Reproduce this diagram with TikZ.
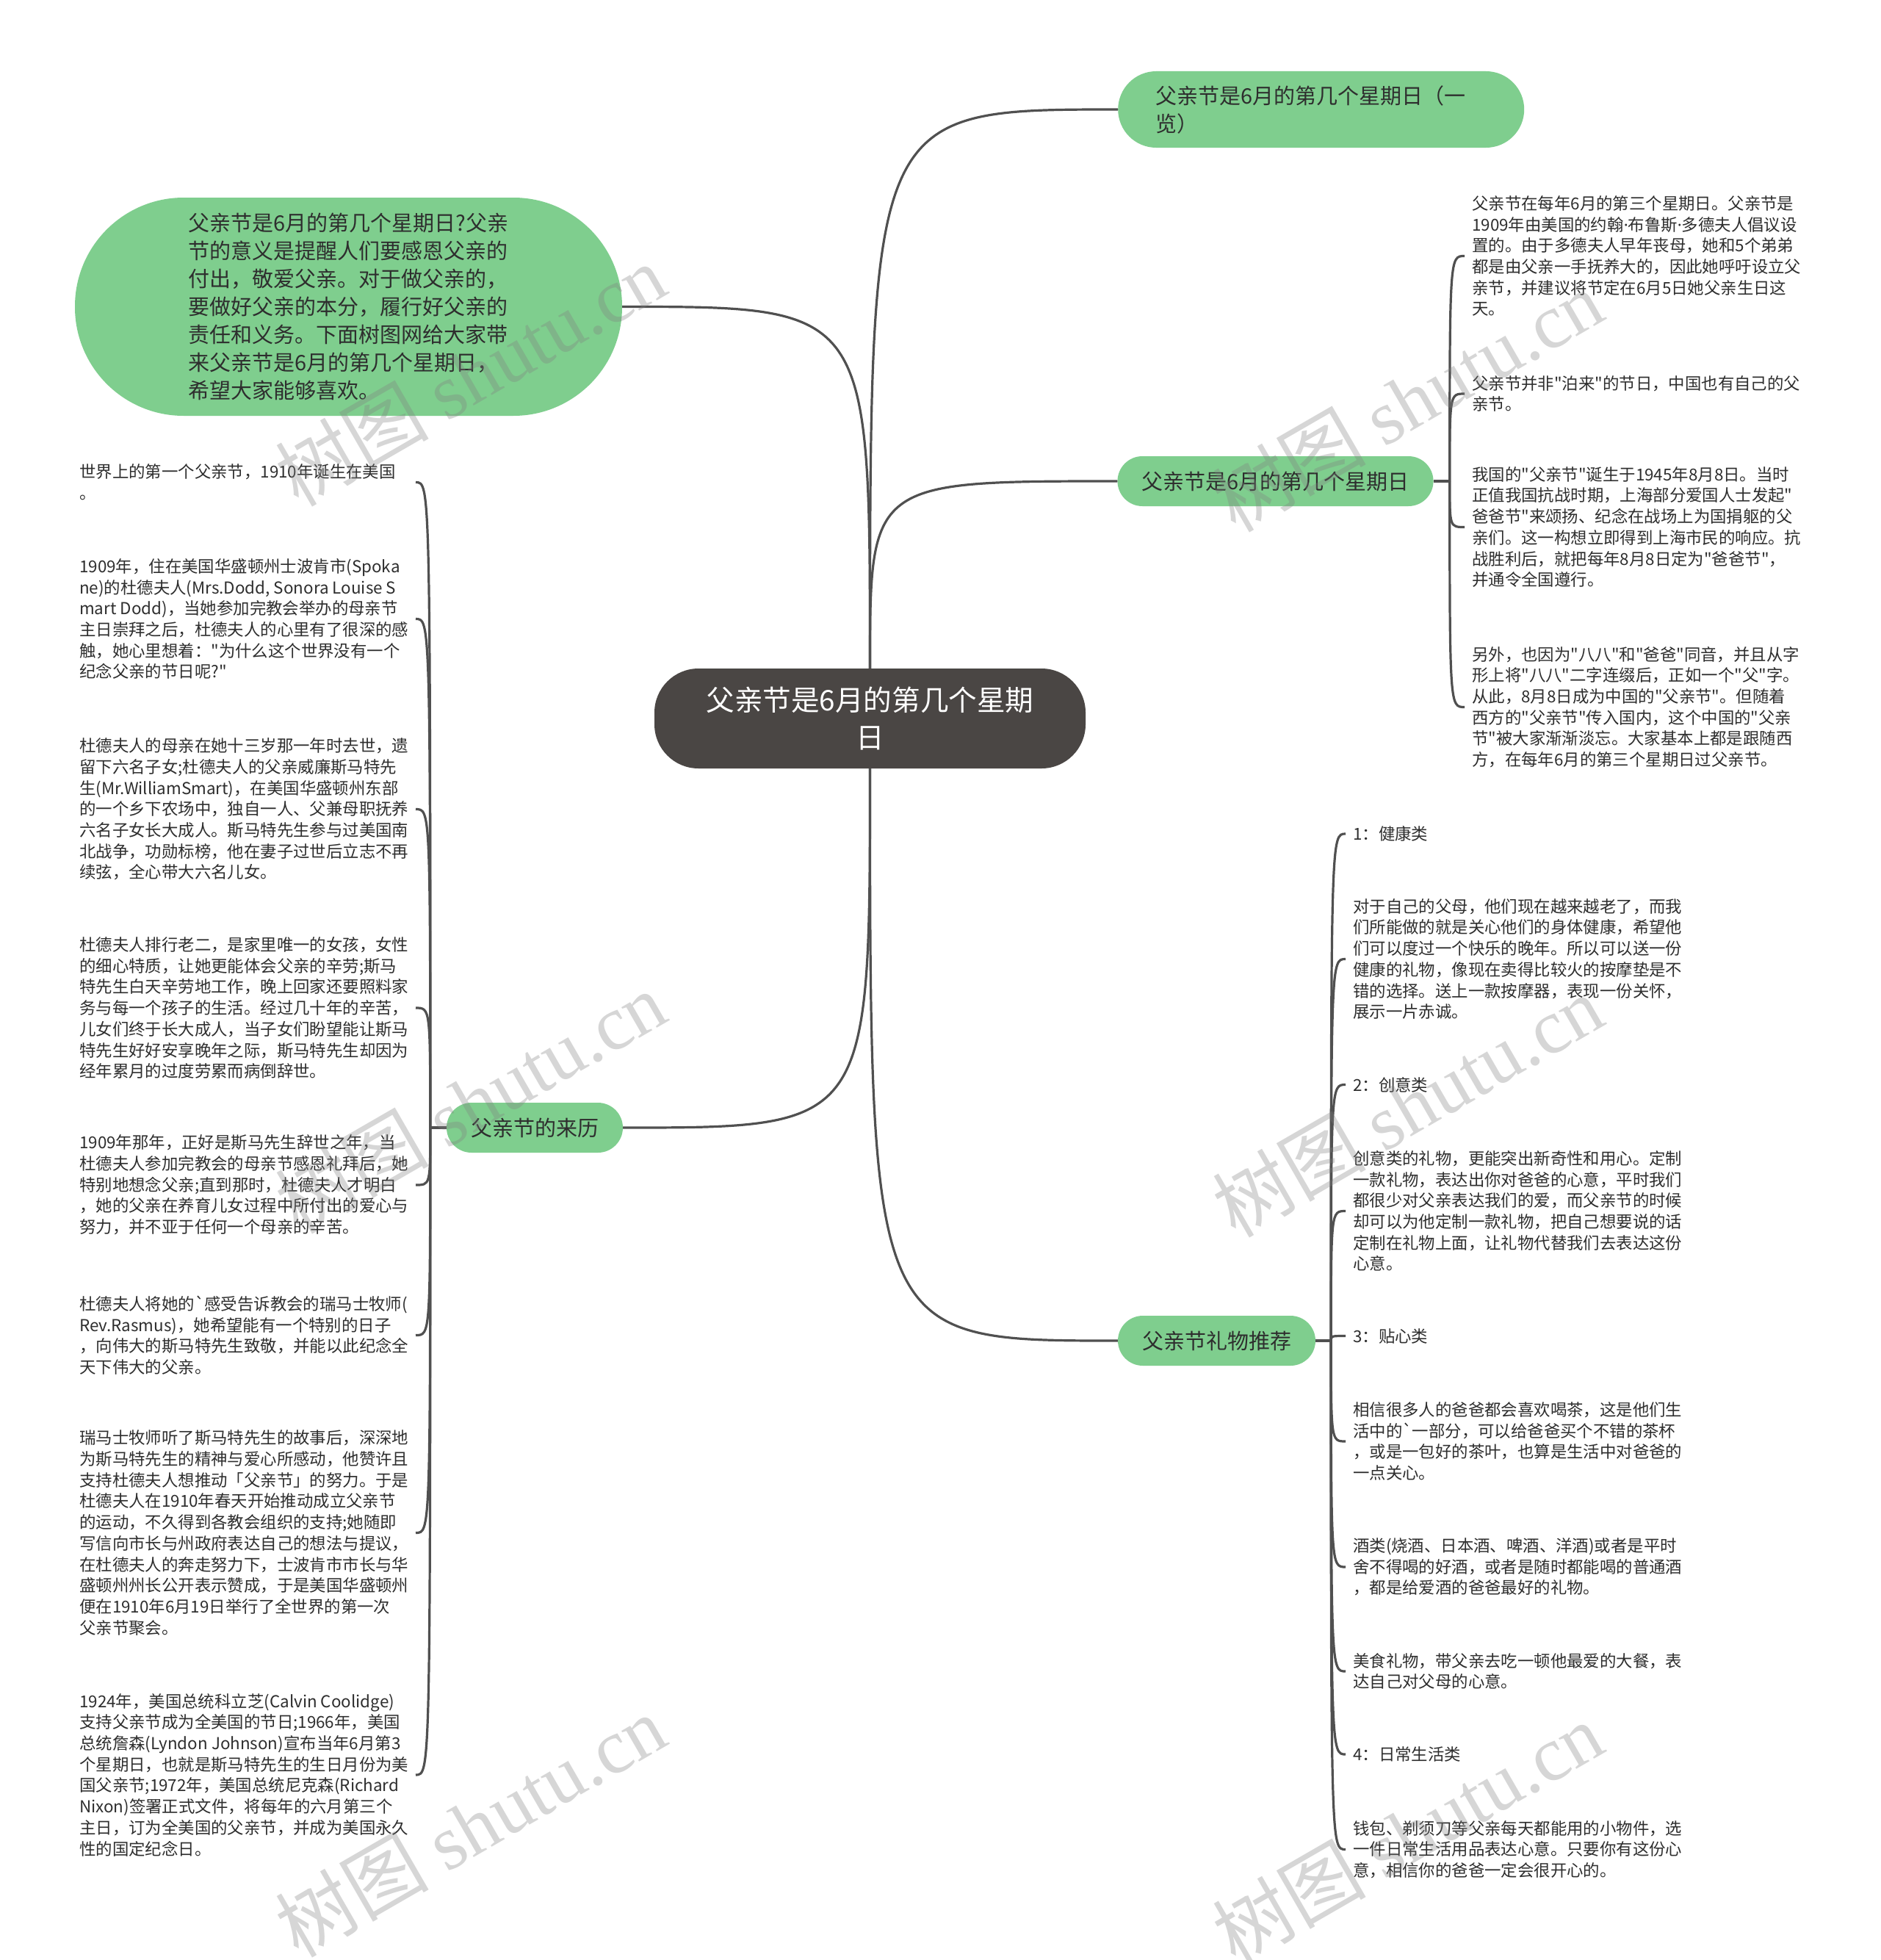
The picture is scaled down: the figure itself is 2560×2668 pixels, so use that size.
\documentclass[tikz,border=0pt]{standalone}
\usepackage{fontspec}
\newfontfamily\cjk{Noto Sans CJK SC}
\newfontfamily\lat{Noto Sans}
\newfontfamily\wmserif{Liberation Serif}
\setmainfont{Noto Sans CJK SC}
\usetikzlibrary{calc}
\definecolor{gnode}{HTML}{7FCE8E}
\definecolor{cnode}{HTML}{4A4644}
\definecolor{lnk}{HTML}{505050}
\definecolor{txt}{HTML}{2E2E2E}
\definecolor{wmc}{HTML}{808080}
\tikzset{
  leaf/.style={anchor=west, inner sep=0pt, align=left, text=txt, font=\cjk\fontsize{22.4}{28.7}\selectfont},
  gbox/.style={fill=gnode, rounded corners=34pt, minimum height=68pt, inner xsep=33pt, inner ysep=0pt, text=txt, font=\cjk\fontsize{29}{38}\selectfont},
  link/.style={draw=lnk, line width=3.2pt},
  wm/.style={rotate=30, text=wmc, opacity=0.32, inner sep=0pt, font=\cjk\fontsize{105}{110}\selectfont}
}
\begin{document}
\begin{tikzpicture}[x=1pt,y=-1pt]
\useasboundingbox[fill=white] (0,0) rectangle (2560,2668);

% central node
\node[fill=cnode, rounded corners=60pt, minimum width=587pt, minimum height=136pt, text=white, align=center, inner sep=0pt, font=\cjk\fontsize{38.6}{51}\selectfont] (cn) at (1184.5,978) {父亲节是6月的第几个星期\\日};

% main branches
\node[gbox, anchor=west, text width=451pt, inner xsep=51pt, minimum height=104pt, rounded corners=52pt, align=left] (na) at (1522,149) {父亲节是6月的第几个星期日（一\\览）};
\node[gbox] (nb) at (1736.5,655) {父亲节是6月的第几个星期日};
\node[gbox] (ng) at (1656.5,1825) {父亲节礼物推荐};
\node[gbox] (nh) at (728,1535) {父亲节的来历};
\node[fill=gnode, minimum width=745pt, minimum height=297pt, rounded corners=148pt, align=left, inner sep=0pt, text=txt, font=\cjk\fontsize{29}{38}\selectfont] (nl) at (474.5,417.5) {父亲节是6月的第几个星期日?父亲\\节的意义是提醒人们要感恩父亲的\\付出，敬爱父亲。对于做父亲的，\\要做好父亲的本分，履行好父亲的\\责任和义务。下面树图网给大家带\\来父亲节是6月的第几个星期日，\\希望大家能够喜欢。};

% center connectors
\draw[link] (cn.north) .. controls (cn.north |- na.west) .. (na.west);
\draw[link] (cn.north) .. controls (cn.north |- nb.west) .. (nb.west);
\draw[link] (cn.north) .. controls (cn.north |- nl.east) .. (nl.east);
\draw[link] (cn.south) .. controls (cn.south |- ng.west) .. (ng.west);
\draw[link] (cn.south) .. controls (cn.south |- nh.east) .. (nh.east);

% ---- B leaves
\node[leaf] (b1) at (2004,348.5) {父亲节在每年6月的第三个星期日。父亲节是\\1909年由美国的约翰{\lat ·}布鲁斯{\lat ·}多德夫人倡议设\\置的。由于多德夫人早年丧母，她和5个弟弟\\都是由父亲一手抚养大的，因此她呼吁设立父\\亲节，并建议将节定在6月5日她父亲生日这\\天。};
\node[leaf] (b2) at (2004,536) {父亲节并非"泊来"的节日，中国也有自己的父\\亲节。};
\node[leaf] (b3) at (2004,717.5) {我国的"父亲节"诞生于1945年8月8日。当时\\正值我国抗战时期，上海部分爱国人士发起"\\爸爸节"来颂扬、纪念在战场上为国捐躯的父\\亲们。这一构想立即得到上海市民的响应。抗\\战胜利后，就把每年8月8日定为"爸爸节"，\\并通令全国遵行。};
\node[leaf] (b4) at (2004,962.5) {另外，也因为"八八"和"爸爸"同音，并且从字\\形上将"八八"二字连缀后，正如一个"父"字。\\从此，8月8日成为中国的"父亲节"。但随着\\西方的"父亲节"传入国内，这个中国的"父亲\\节"被大家渐渐淡忘。大家基本上都是跟随西\\方，在每年6月的第三个星期日过父亲节。};

\draw[link] (nb.east) -- ++(22,0) coordinate (hb);
\foreach \n in {b1,b2,b3,b4}{
  \coordinate (e\n) at ($(\n.west)+(-10,0)$);
  \draw[link] (hb) .. controls (hb |- e\n) .. (e\n);
}

% ---- gift leaves
\node[leaf] (g1) at (1842,1135) {1：健康类};
\node[leaf] (g2) at (1842,1305.5) {对于自己的父母，他们现在越来越老了，而我\\们所能做的就是关心他们的身体健康，希望他\\们可以度过一个快乐的晚年。所以可以送一份\\健康的礼物，像现在卖得比较火的按摩垫是不\\错的选择。送上一款按摩器，表现一份关怀，\\展示一片赤诚。};
\node[leaf] (g3) at (1842,1476.5) {2：创意类};
\node[leaf] (g4) at (1842,1648.5) {创意类的礼物，更能突出新奇性和用心。定制\\一款礼物，表达出你对爸爸的心意，平时我们\\都很少对父亲表达我们的爱，而父亲节的时候\\却可以为他定制一款礼物，把自己想要说的话\\定制在礼物上面，让礼物代替我们去表达这份\\心意。};
\node[leaf] (g5) at (1842,1818.5) {3：贴心类};
\node[leaf] (g6) at (1842,1962) {相信很多人的爸爸都会喜欢喝茶，这是他们生\\活中的`一部分，可以给爸爸买个不错的茶杯\\，或是一包好的茶叶，也算是生活中对爸爸的\\一点关心。};
\node[leaf] (g7) at (1842,2133) {酒类(烧酒、日本酒、啤酒、洋酒)或者是平时\\舍不得喝的好酒，或者是随时都能喝的普通酒\\，都是给爱酒的爸爸最好的礼物。};
\node[leaf] (g8) at (1842,2275) {美食礼物，带父亲去吃一顿他最爱的大餐，表\\达自己对父母的心意。};
\node[leaf] (g9) at (1842,2388) {4：日常生活类};
\node[leaf] (g10) at (1842,2517.5) {钱包、剃须刀等父亲每天都能用的小物件，选\\一件日常生活用品表达心意。只要你有这份心\\意，相信你的爸爸一定会很开心的。};

\draw[link] (ng.east) -- ++(21,0) coordinate (hg);
\foreach \n in {g1,g2,g3,g4,g5,g6,g7,g8,g9,g10}{
  \coordinate (e\n) at ($(\n.west)+(-10,0)$);
  \draw[link] (hg) .. controls (hg |- e\n) .. (e\n);
}

% ---- history leaves
\node[leaf] (l1) at (108,656.5) {世界上的第一个父亲节，1910年诞生在美国\\。};
\node[leaf] (l2) at (108,842.5) {1909年，住在美国华盛顿州士波肯市(Spoka\\ne)的杜德夫人(Mrs.Dodd, Sonora Louise S\\mart Dodd)，当她参加完教会举办的母亲节\\主日崇拜之后，杜德夫人的心里有了很深的感\\触，她心里想着："为什么这个世界没有一个\\纪念父亲的节日呢?"};
\node[leaf] (l3) at (108,1101.5) {杜德夫人的母亲在她十三岁那一年时去世，遗\\留下六名子女;杜德夫人的父亲威廉斯马特先\\生(Mr.WilliamSmart)，在美国华盛顿州东部\\的一个乡下农场中，独自一人、父兼母职抚养\\六名子女长大成人。斯马特先生参与过美国南\\北战争，功勋标榜，他在妻子过世后立志不再\\续弦，全心带大六名儿女。};
\node[leaf] (l4) at (108,1372) {杜德夫人排行老二，是家里唯一的女孩，女性\\的细心特质，让她更能体会父亲的辛劳;斯马\\特先生白天辛劳地工作，晚上回家还要照料家\\务与每一个孩子的生活。经过几十年的辛苦，\\儿女们终于长大成人，当子女们盼望能让斯马\\特先生好好安享晚年之际，斯马特先生却因为\\经年累月的过度劳累而病倒辞世。};
\node[leaf] (l5) at (108,1613) {1909年那年，正好是斯马先生辞世之年，当\\杜德夫人参加完教会的母亲节感恩礼拜后，她\\特别地想念父亲;直到那时，杜德夫人才明白\\，她的父亲在养育儿女过程中所付出的爱心与\\努力，并不亚于任何一个母亲的辛苦。};
\node[leaf] (l6) at (108,1817.5) {杜德夫人将她的`感受告诉教会的瑞马士牧师(\\Rev.Rasmus)，她希望能有一个特别的日子\\，向伟大的斯马特先生致敬，并能以此纪念全\\天下伟大的父亲。};
\node[leaf] (l7) at (108,2086.5) {瑞马士牧师听了斯马特先生的故事后，深深地\\为斯马特先生的精神与爱心所感动，他赞许且\\支持杜德夫人想推动「父亲节」的努力。于是\\杜德夫人在1910年春天开始推动成立父亲节\\的运动，不久得到各教会组织的支持;她随即\\写信向市长与州政府表达自己的想法与提议，\\在杜德夫人的奔走努力下，士波肯市市长与华\\盛顿州州长公开表示赞成，于是美国华盛顿州\\便在1910年6月19日举行了全世界的第一次\\父亲节聚会。};
\node[leaf] (l8) at (108,2416) {1924年，美国总统科立芝(Calvin Coolidge)\\支持父亲节成为全美国的节日;1966年，美国\\总统詹森(Lyndon Johnson)宣布当年6月第3\\个星期日，也就是斯马特先生的生日月份为美\\国父亲节;1972年，美国总统尼克森(Richard\\Nixon)签署正式文件，将每年的六月第三个\\主日，订为全美国的父亲节，并成为美国永久\\性的国定纪念日。};

\draw[link] (nh.west) -- ++(-22,0) coordinate (hh);
\coordinate (lx) at (566,0);
\foreach \n in {l1,l2,l3,l4,l5,l6,l7,l8}{
  \coordinate (e\n) at (\n.west -| lx);
  \draw[link] (hh) .. controls (hh |- e\n) .. (e\n);
}

% ---- watermarks
\foreach \wx/\wy [count=\i] in {640/510, 1916/545, 640/1500, 1916/1505, 640/2485, 1916/2495}{
  \node[wm] (wm\i) at (\wx,\wy) {树图 {\wmserif shutu.cn}};
}
\end{tikzpicture}
\end{document}
